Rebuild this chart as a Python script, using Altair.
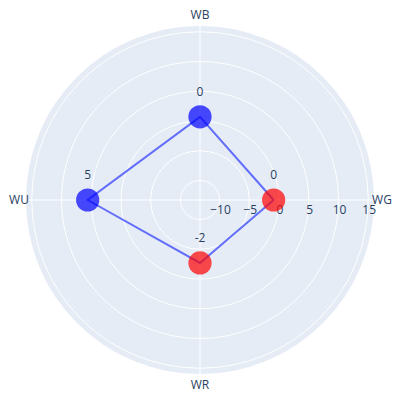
import math
import altair as alt
import pandas as pd

# ---- data ----
categories = ["WG", "WB", "WU", "WR"]
values = [-0.9, 0.7, 5.6, -2.7]
point_labels = ["0", "0", "5", "-2"]
radial_ticks = [-10, -5, 0, 5, 10, 15]
radial_tick_labels = ["\u221210", "\u22125", "0", "5", "10", "15"]
RMIN, RMAX = -13.28, 15.97

# ---- layout / style constants ----
R_PX = 174          # outer radius of the polar disk in px
HALF = 192          # half of the plot size
FONT = "Open Sans"
TXT = "#2a3f5f"

n = len(categories)
angles = [i * 360.0 / n for i in range(n)]

pts = pd.DataFrame({"cat": categories, "value": values, "label": point_labels,
                    "angle": angles})
line_df = pd.concat([pts, pts.iloc[[0]]], ignore_index=True)
line_df["order"] = range(len(line_df))
ticks = pd.DataFrame({"tick": radial_ticks, "tlabel": radial_tick_labels})
disk = pd.DataFrame({"tick": [RMAX]})

xs = alt.Scale(domain=[-HALF, HALF])
ys = alt.Scale(domain=[-HALF, HALF])
rscale = alt.Scale(type="linear", domain=[RMIN, RMAX], range=[0, R_PX], zero=False)

rpx = f"(datum.value - ({RMIN})) / ({RMAX} - ({RMIN})) * {R_PX}"


def polar(ch):
    return ch.transform_calculate(
        rp=rpx
    ).transform_calculate(
        px="datum.rp * cos(datum.angle * PI / 180)",
        py="datum.rp * sin(datum.angle * PI / 180)",
    )


disk_layer = alt.Chart(disk).mark_arc(
    theta=0, theta2=2 * math.pi, fill="#e5ecf6", strokeWidth=0
).encode(radius=alt.Radius("tick:Q", scale=rscale), radius2=alt.Radius2(datum=RMIN))

grid_layer = alt.Chart(ticks).mark_arc(
    theta=0, theta2=2 * math.pi, fill="#e5ecf6", fillOpacity=0,
    stroke="white", strokeWidth=1
).encode(radius=alt.Radius("tick:Q", scale=rscale), radius2=alt.Radius2(datum=RMIN))

spokes = alt.Chart(pts).mark_rule(color="white", strokeWidth=1).transform_calculate(
    x0="0", y0="0",
    x1=f"{R_PX} * cos(datum.angle * PI / 180)",
    y1=f"{R_PX} * sin(datum.angle * PI / 180)",
).encode(
    x=alt.X("x0:Q", scale=xs, axis=None),
    y=alt.Y("y0:Q", scale=ys, axis=None),
    x2="x1:Q", y2="y1:Q",
)

tick_text = alt.Chart(ticks).mark_text(
    font=FONT, fontSize=12, color=TXT, baseline="middle", align="center", dy=10, dx=1
).transform_calculate(
    tx=f"(datum.tick - ({RMIN})) / ({RMAX} - ({RMIN})) * {R_PX}", ty="0"
).encode(
    x=alt.X("tx:Q", scale=xs, axis=None),
    y=alt.Y("ty:Q", scale=ys, axis=None),
    text="tlabel:N",
)

# angular labels just outside the disk
ang_text = alt.Chart(pts).mark_text(
    font=FONT, fontSize=12, color=TXT, baseline="middle", align="center"
).transform_calculate(
    lr="cos(datum.angle * PI / 180) > 0.5 ? 182 : (cos(datum.angle * PI / 180) < -0.5 ? 181 : 185)"
).transform_calculate(
    ax="datum.lr * cos(datum.angle * PI / 180)",
    ay="datum.lr * sin(datum.angle * PI / 180)",
).encode(
    x=alt.X("ax:Q", scale=xs, axis=None),
    y=alt.Y("ay:Q", scale=ys, axis=None),
    text="cat:N",
)

line_layer = polar(alt.Chart(line_df)).mark_line(
    color="#636efa", strokeWidth=2
).encode(
    x=alt.X("px:Q", scale=xs, axis=None),
    y=alt.Y("py:Q", scale=ys, axis=None),
    order="order:Q",
)

marker_layer = polar(alt.Chart(pts)).transform_calculate(
    sign="datum.value < 0 ? 'neg' : 'pos'"
).mark_circle(size=540, opacity=0.7).encode(
    x=alt.X("px:Q", scale=xs, axis=None),
    y=alt.Y("py:Q", scale=ys, axis=None),
    color=alt.Color("sign:N", scale=alt.Scale(domain=["neg", "pos"], range=["red", "blue"]),
                    legend=None),
)

label_layer = polar(alt.Chart(pts)).mark_text(
    font=FONT, fontSize=12, color=TXT, baseline="middle", align="center", dy=-25
).encode(
    x=alt.X("px:Q", scale=xs, axis=None),
    y=alt.Y("py:Q", scale=ys, axis=None),
    text="label:N",
)

chart = alt.layer(
    disk_layer, grid_layer, spokes, tick_text, ang_text,
    line_layer, marker_layer, label_layer
).properties(
    width=2 * HALF, height=2 * HALF,
    autosize=alt.AutoSizeParams(type="none"), padding=0,
    background="white",
).configure_view(stroke=None)

chart.save("out.html", embed_options={"renderer": "svg", "actions": False})
